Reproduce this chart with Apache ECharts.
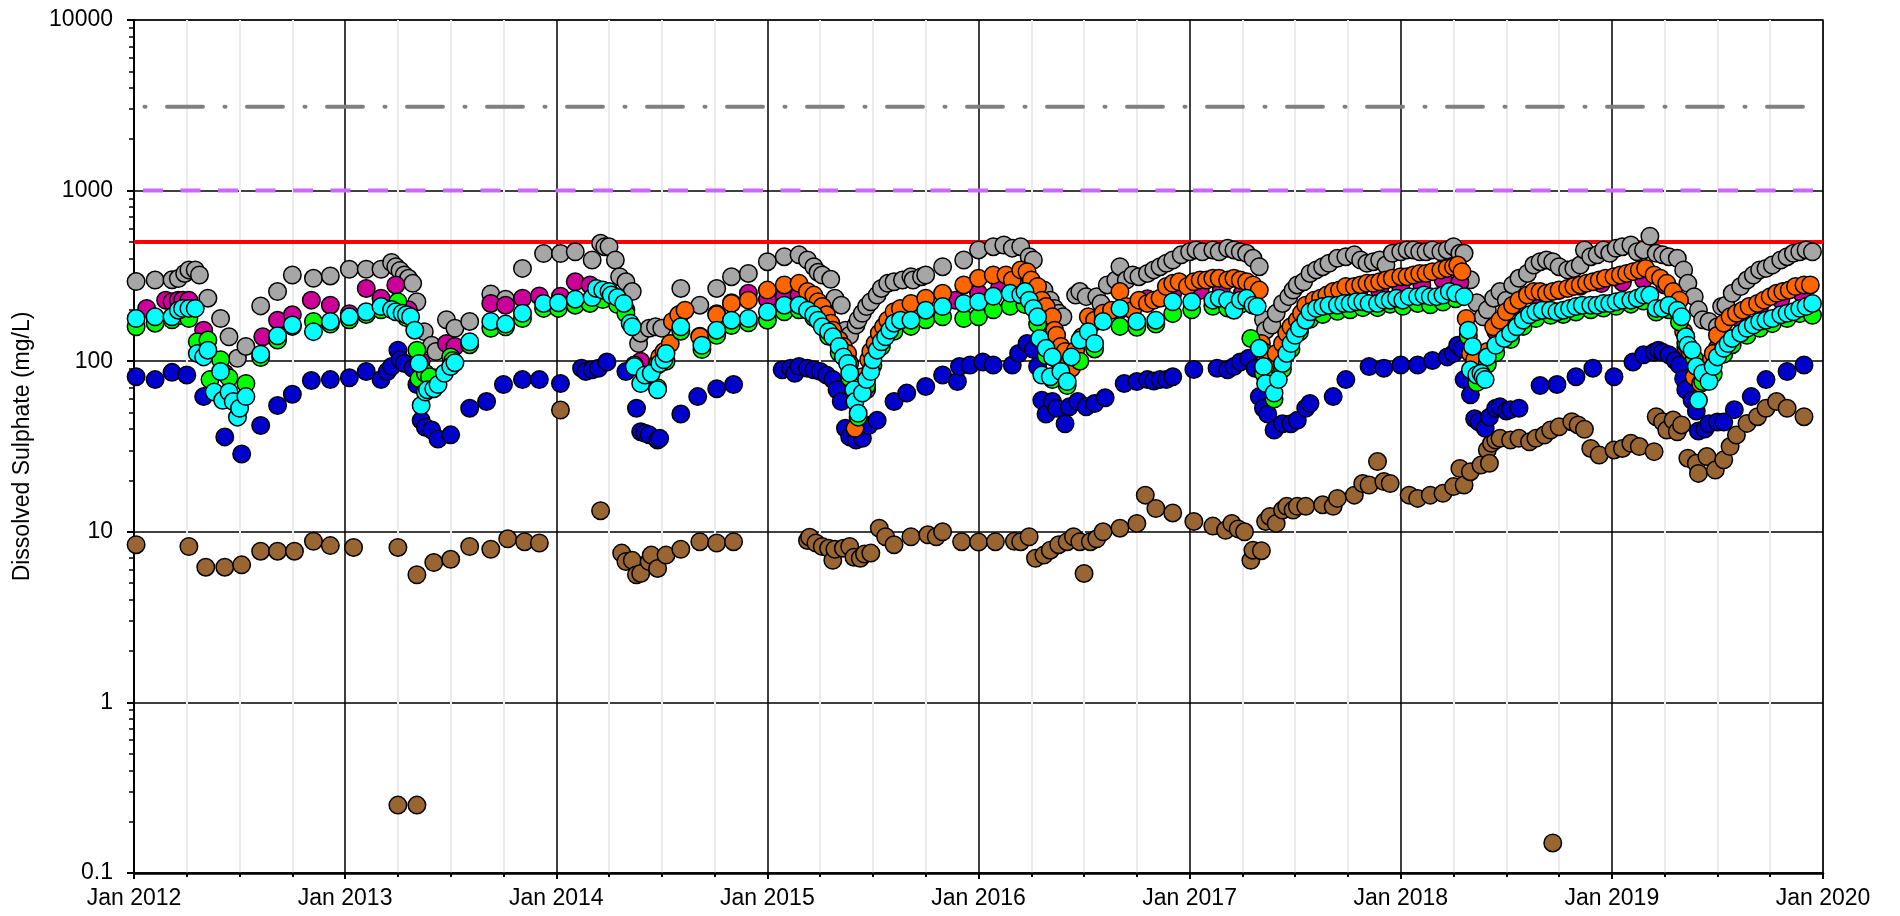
<!DOCTYPE html>
<html>
<head>
<meta charset="utf-8">
<title>Dissolved Sulphate</title>
<script src="https://cdn.jsdelivr.net/npm/echarts@6/dist/echarts.min.js"></script>
<style>
html, body { margin: 0; padding: 0; background: #ffffff; }
#chart { width: 1900px; height: 916px; }
</style>
</head>
<body>
<div id="chart"></div>
<script>
// Sampling date (decimal year) and dissolved sulphate (mg/L) for each monitoring location
const graySeries = [
  [2012.01,293],[2012.10,299],[2012.18,300],[2012.21,305],[2012.24,327],[2012.26,343],[2012.29,343],[2012.31,320],[2012.35,234],[2012.41,178],[2012.45,139],[2012.49,104],[2012.53,122],[2012.60,211],[2012.68,256],[2012.75,320],[2012.85,306],[2012.93,316],
  [2013.02,346],[2013.10,346],[2013.17,346],[2013.22,379],[2013.24,358],[2013.26,340],[2013.28,320],[2013.30,306],[2013.32,286],[2013.34,223],[2013.375,149],[2013.41,124],[2013.43,114],[2013.48,175],[2013.52,156],[2013.59,171],[2013.69,248],[2013.76,231],[2013.84,350],[2013.94,428],
  [2014.02,428],[2014.09,438],[2014.17,392],[2014.21,491],[2014.23,469],[2014.25,469],[2014.28,392],[2014.30,313],[2014.33,292],[2014.36,256],[2014.39,127],[2014.40,146],[2014.44,156],[2014.47,159],[2014.50,156],[2014.59,267],[2014.68,213],[2014.76,267],[2014.83,313],[2014.91,327],
  [2015.00,383],[2015.08,410],[2015.15,420],[2015.19,392],[2015.22,358],[2015.24,332],[2015.26,320],[2015.30,302],[2015.32,234],[2015.35,213],[2015.37,152],[2015.39,142],[2015.42,163],[2015.43,175],[2015.45,191],[2015.47,209],[2015.49,223],[2015.52,244],[2015.54,267],[2015.57,286],[2015.60,292],[2015.64,299],[2015.68,313],[2015.69,299],[2015.73,313],[2015.75,320],[2015.83,358],[2015.93,392],
  [2016.00,449],[2016.07,469],[2016.12,480],[2016.16,460],[2016.20,469],[2016.24,410],[2016.26,392],[2016.29,267],[2016.31,261],[2016.34,228],[2016.36,204],[2016.38,191],[2016.40,182],[2016.46,244],[2016.48,256],[2016.51,239],[2016.56,239],[2016.58,218],[2016.61,280],[2016.65,299],[2016.67,358],[2016.70,299],[2016.73,320],[2016.76,313],[2016.80,327],[2016.83,343],[2016.86,358],[2016.89,375],[2016.92,392],[2016.96,420],
  [2017.00,438],[2017.03,449],[2017.06,438],[2017.11,449],[2017.14,438],[2017.18,459],[2017.21,449],[2017.24,438],[2017.27,429],[2017.30,401],[2017.33,358],[2017.35,175],[2017.36,152],[2017.39,163],[2017.41,191],[2017.44,218],[2017.47,239],[2017.49,261],[2017.51,280],[2017.54,292],[2017.57,327],[2017.60,343],[2017.63,358],[2017.66,375],[2017.70,401],[2017.74,410],[2017.78,420],[2017.81,392],[2017.84,375],[2017.87,383],[2017.90,392],[2017.93,366],[2017.96,429],
  [2018.00,438],[2018.03,449],[2018.06,449],[2018.09,438],[2018.12,438],[2018.15,449],[2018.19,438],[2018.22,449],[2018.25,469],[2018.28,429],[2018.30,429],[2018.33,300],[2018.36,220],[2018.39,182],[2018.41,200],[2018.44,234],[2018.47,256],[2018.50,228],[2018.53,280],[2018.56,306],[2018.60,327],[2018.63,366],[2018.66,383],[2018.69,392],[2018.72,383],[2018.75,358],[2018.79,343],[2018.82,350],[2018.85,366],[2018.87,449],[2018.90,410],[2018.93,420],[2018.96,449],[2018.99,429],
  [2019.02,459],[2019.05,469],[2019.09,480],[2019.12,438],[2019.15,449],[2019.18,540],[2019.21,429],[2019.24,420],[2019.27,410],[2019.31,401],[2019.34,343],[2019.36,286],[2019.39,239],[2019.41,200],[2019.43,175],[2019.46,171],[2019.50,159],[2019.52,209],[2019.54,213],[2019.57,250],[2019.61,274],[2019.64,299],[2019.67,320],[2019.70,343],[2019.73,350],[2019.76,366],[2019.80,392],[2019.83,410],[2019.86,429],[2019.89,438],[2019.92,449],[2019.95,438]
];

const magentaSeries = [
  [2012.06,204],[2012.15,228],[2012.18,223],[2012.21,228],[2012.23,228],[2012.26,228],[2012.33,152],[2012.43,85],[2012.61,139],[2012.68,174],[2012.75,187],[2012.84,228],[2012.93,213],
  [2013.02,190],[2013.10,267],[2013.17,234],[2013.24,280],[2013.30,200],[2013.36,100],[2013.42,80],[2013.48,127],[2013.52,122],[2013.69,218],[2013.76,213],[2013.84,234],[2013.92,241],
  [2014.02,240],[2014.09,292],[2014.16,280],[2014.25,250],[2014.33,200],[2014.40,100],[2014.48,95],[2014.59,190],[2014.68,140],[2014.76,190],[2014.83,220],[2014.91,250],
  [2015.00,230],[2015.08,240],[2015.15,244],[2015.26,180],[2015.35,110],[2015.42,65],[2015.47,68],[2015.50,110],[2015.60,160],[2015.75,200],[2015.89,228],
  [2016.00,250],[2016.10,270],[2016.20,280],[2016.30,190],[2016.38,100],[2016.45,110],[2016.55,170],[2016.67,200],[2016.80,232],[2016.92,250],
  [2017.05,260],[2017.15,265],[2017.25,250],[2017.35,110],[2017.42,100],[2017.50,150],[2017.60,200],[2017.70,230],[2017.80,250],[2017.90,260],
  [2018.00,270],[2018.10,280],[2018.20,300],[2018.28,290],[2018.35,95],[2018.45,150],[2018.55,210],[2018.65,240],[2018.75,260],[2018.85,275],[2018.95,285],
  [2019.05,290],[2019.15,300],[2019.25,280],[2019.35,120],[2019.42,80],[2019.50,120],[2019.60,180],[2019.70,210],[2019.80,230],[2019.90,250]
];

const greenSeries = [
  [2012.01,159],[2012.10,167],[2012.18,175],[2012.22,185],[2012.26,178],[2012.30,130],[2012.35,133],[2012.36,78],[2012.41,102],[2012.45,80],[2012.53,74],[2012.60,105],[2012.68,133],[2012.75,160],[2012.85,171],[2012.93,165],
  [2013.02,175],[2013.10,188],[2013.17,200],[2013.25,223],[2013.29,180],[2013.34,116],[2013.35,79],[2013.38,85],[2013.40,81],[2013.50,106],[2013.51,101],[2013.59,125],[2013.69,156],[2013.76,159],[2013.84,178],[2013.94,204],
  [2014.01,204],[2014.09,213],[2014.16,218],[2014.22,230],[2014.29,215],[2014.33,190],[2014.37,95],[2014.42,78],[2014.48,70],[2014.52,100],[2014.59,150],[2014.69,117],[2014.76,142],[2014.83,162],[2014.91,168],
  [2015.00,174],[2015.08,195],[2015.15,200],[2015.22,180],[2015.29,140],[2015.34,112],[2015.39,80],[2015.43,47],[2015.47,72],[2015.50,95],[2015.54,122],[2015.60,150],[2015.68,160],[2015.75,175],[2015.83,182],[2015.93,178],
  [2016.00,182],[2016.07,200],[2016.15,210],[2016.22,215],[2016.28,165],[2016.32,108],[2016.35,78],[2016.42,72],[2016.48,100],[2016.55,118],[2016.67,160],[2016.75,158],[2016.84,165],[2016.92,190],
  [2017.01,200],[2017.11,210],[2017.18,205],[2017.24,215],[2017.29,136],[2017.35,85],[2017.40,60],[2017.44,90],[2017.48,118],[2017.52,148],[2017.57,176],[2017.63,188],[2017.70,196],[2017.76,200],[2017.82,206],[2017.89,206],[2017.95,216],
  [2018.01,210],[2018.08,218],[2018.14,214],[2018.20,222],[2018.26,232],[2018.32,140],[2018.36,75],[2018.41,96],[2018.45,112],[2018.52,134],[2018.58,160],[2018.64,178],[2018.71,186],[2018.77,188],[2018.83,194],[2018.90,200],[2018.96,205],
  [2019.02,210],[2019.09,216],[2019.15,225],[2019.21,194],[2019.27,200],[2019.32,170],[2019.35,128],[2019.39,104],[2019.43,76],[2019.48,84],[2019.53,110],[2019.57,125],[2019.64,142],[2019.70,156],[2019.76,166],[2019.83,178],[2019.89,190],[2019.95,186]
];

const orangeSeries = [
  [2014.48,97],[2014.49,106],[2014.51,114],[2014.54,127],[2014.55,171],[2014.58,187],[2014.61,199],[2014.68,139],[2014.76,187],[2014.83,218],[2014.91,228],
  [2015.00,261],[2015.08,280],[2015.15,286],[2015.19,256],[2015.22,244],[2015.24,223],[2015.26,209],[2015.28,187],[2015.30,167],[2015.31,152],[2015.34,133],[2015.36,122],[2015.38,111],[2015.39,97],[2015.41,65],[2015.415,40.4],[2015.44,71],[2015.45,81],[2015.48,102],[2015.49,114],[2015.51,127],[2015.53,146],[2015.55,159],[2015.57,174],[2015.60,195],[2015.63,204],[2015.68,218],[2015.75,234],[2015.83,250],[2015.93,280],
  [2016.00,306],[2016.07,320],[2016.13,320],[2016.16,299],[2016.20,343],[2016.23,335],[2016.25,299],[2016.28,274],[2016.30,228],[2016.32,209],[2016.35,182],[2016.36,152],[2016.37,142],[2016.39,122],[2016.41,114],[2016.43,99],[2016.44,91],[2016.46,116],[2016.49,139],[2016.52,182],[2016.55,174],[2016.59,191],[2016.63,199],[2016.67,256],[2016.70,209],[2016.73,199],[2016.76,228],[2016.80,218],[2016.83,228],[2016.86,234],[2016.89,274],[2016.92,286],[2016.95,292],[2016.99,274],
  [2017.02,292],[2017.05,299],[2017.08,299],[2017.11,306],[2017.14,306],[2017.18,299],[2017.21,306],[2017.24,299],[2017.27,292],[2017.30,280],[2017.33,261],[2017.34,127],[2017.35,114],[2017.36,102],[2017.39,93],[2017.41,111],[2017.44,127],[2017.46,146],[2017.48,159],[2017.51,174],[2017.53,191],[2017.55,213],[2017.59,228],[2017.62,234],[2017.65,244],[2017.68,256],[2017.71,261],[2017.74,274],[2017.78,274],[2017.81,280],[2017.84,286],[2017.87,286],[2017.90,292],[2017.93,299],[2017.96,306],
  [2018.00,313],[2018.03,313],[2018.06,320],[2018.09,327],[2018.12,327],[2018.15,335],[2018.19,343],[2018.22,350],[2018.25,358],[2018.27,366],[2018.29,335],[2018.31,178],[2018.33,111],[2018.35,102],[2018.38,83],[2018.41,114],[2018.44,159],[2018.47,174],[2018.50,195],[2018.53,213],[2018.56,228],[2018.60,244],[2018.63,256],[2018.66,256],[2018.69,250],[2018.72,256],[2018.75,261],[2018.79,267],[2018.82,274],[2018.85,280],[2018.88,286],[2018.91,292],[2018.94,299],[2018.97,306],
  [2019.01,313],[2019.04,320],[2019.07,327],[2019.10,335],[2019.13,343],[2019.16,350],[2019.20,320],[2019.23,306],[2019.26,286],[2019.29,256],[2019.32,228],[2019.34,149],[2019.35,139],[2019.37,114],[2019.39,81],[2019.42,74],[2019.45,97],[2019.48,111],[2019.50,142],[2019.53,167],[2019.56,182],[2019.59,191],[2019.62,199],[2019.65,209],[2019.69,218],[2019.72,228],[2019.75,239],[2019.78,250],[2019.81,256],[2019.84,261],[2019.87,274],[2019.91,280],[2019.94,280]
];

const cyanSeries = [
  [2012.01,178],[2012.10,182],[2012.18,182],[2012.21,199],[2012.23,204],[2012.26,204],[2012.29,204],[2012.30,111],[2012.33,106],[2012.35,116],[2012.38,66],[2012.41,87],[2012.42,59],[2012.45,66],[2012.47,58],[2012.49,47],[2012.50,53],[2012.53,62],[2012.60,110],[2012.68,141],[2012.75,163],[2012.85,149],[2012.93,171],
  [2013.02,182],[2013.10,195],[2013.17,209],[2013.22,201],[2013.24,195],[2013.27,191],[2013.29,187],[2013.31,182],[2013.33,152],[2013.35,97],[2013.36,55],[2013.38,66],[2013.39,68],[2013.42,69],[2013.44,73],[2013.47,85],[2013.50,93],[2013.52,98],[2013.59,130],[2013.69,171],[2013.76,165],[2013.84,191],[2013.94,218],
  [2014.01,220],[2014.09,231],[2014.17,236],[2014.19,267],[2014.22,261],[2014.25,256],[2014.26,244],[2014.29,236],[2014.32,218],[2014.35,167],[2014.36,159],[2014.37,93],[2014.40,74],[2014.42,83],[2014.45,85],[2014.48,68],[2014.49,97],[2014.51,102],[2014.52,111],[2014.59,159],[2014.69,124],[2014.76,152],[2014.83,174],[2014.91,178],
  [2015.00,195],[2015.08,213],[2015.15,213],[2015.19,199],[2015.22,187],[2015.24,174],[2015.26,159],[2015.29,149],[2015.31,139],[2015.34,122],[2015.36,106],[2015.38,97],[2015.39,85],[2015.41,68],[2015.415,58],[2015.43,49.5],[2015.45,65],[2015.47,78],[2015.49,87],[2015.50,102],[2015.52,116],[2015.54,130],[2015.56,139],[2015.58,152],[2015.60,167],[2015.63,174],[2015.68,174],[2015.75,199],[2015.83,209],[2015.93,218],
  [2016.00,223],[2016.07,240],[2016.15,250],[2016.20,245],[2016.22,256],[2016.24,228],[2016.26,204],[2016.28,182],[2016.29,136],[2016.30,83],[2016.32,119],[2016.34,81],[2016.35,106],[2016.39,87],[2016.42,76],[2016.44,106],[2016.48,133],[2016.52,149],[2016.55,127],[2016.59,171],[2016.67,204],[2016.75,171],[2016.84,174],[2016.92,223],
  [2017.01,223],[2017.11,228],[2017.14,234],[2017.18,228],[2017.21,199],[2017.24,228],[2017.27,234],[2017.30,213],[2017.32,209],[2017.33,119],[2017.35,93],[2017.36,74],[2017.40,65],[2017.42,78],[2017.44,97],[2017.46,111],[2017.48,127],[2017.50,142],[2017.52,156],[2017.55,174],[2017.57,195],[2017.60,204],[2017.63,209],[2017.66,213],[2017.70,213],[2017.73,218],[2017.76,218],[2017.79,223],[2017.82,223],[2017.85,218],[2017.89,218],[2017.92,228],[2017.95,228],[2017.98,234],
  [2018.01,228],[2018.04,239],[2018.08,239],[2018.11,244],[2018.14,239],[2018.17,239],[2018.20,244],[2018.23,256],[2018.26,250],[2018.30,239],[2018.32,152],[2018.33,89],[2018.34,122],[2018.36,83],[2018.38,85],[2018.39,81],[2018.40,78],[2018.41,106],[2018.45,124],[2018.49,136],[2018.52,146],[2018.55,159],[2018.58,174],[2018.61,187],[2018.64,195],[2018.67,199],[2018.71,199],[2018.74,195],[2018.77,199],[2018.80,204],[2018.83,209],[2018.86,213],[2018.90,213],[2018.93,213],[2018.96,218],[2018.99,218],
  [2019.02,223],[2019.05,228],[2019.09,228],[2019.12,234],[2019.15,244],[2019.18,244],[2019.21,204],[2019.24,204],[2019.27,213],[2019.31,199],[2019.33,182],[2019.35,139],[2019.36,124],[2019.38,116],[2019.40,93],[2019.41,59],[2019.43,85],[2019.46,76],[2019.48,93],[2019.50,106],[2019.53,119],[2019.55,127],[2019.57,136],[2019.61,146],[2019.64,156],[2019.67,163],[2019.70,171],[2019.73,174],[2019.76,178],[2019.80,187],[2019.83,191],[2019.86,195],[2019.89,204],[2019.92,209],[2019.95,218]
];

const blueSeries = [
  [2012.01,81],[2012.10,78],[2012.18,86],[2012.25,83],[2012.33,62],[2012.43,36],[2012.51,28.6],[2012.60,42],[2012.68,55],[2012.75,64],[2012.84,77],[2012.93,78],
  [2013.02,80],[2013.10,87],[2013.17,78],[2013.20,87],[2013.22,93],[2013.25,116],[2013.26,102],[2013.28,97],[2013.32,91],[2013.34,73],[2013.36,45],[2013.38,41],[2013.41,39.5],[2013.44,35],[2013.50,37],[2013.59,53],[2013.67,58],[2013.75,73],[2013.84,78],[2013.92,78],
  [2014.02,74],[2014.12,91],[2014.14,87],[2014.17,89],[2014.20,91],[2014.24,99],[2014.33,87],[2014.38,53],[2014.40,38.6],[2014.42,37.8],[2014.44,37],[2014.48,34.5],[2014.49,35.3],[2014.59,49],[2014.67,62],[2014.76,69],[2014.84,73],
  [2015.07,89],[2015.11,91],[2015.13,85],[2015.15,93],[2015.19,91],[2015.22,89],[2015.25,87],[2015.28,83],[2015.31,78],[2015.33,68],[2015.35,58],[2015.37,40.5],[2015.39,36],[2015.42,34.5],[2015.45,35.3],[2015.48,42],[2015.52,45],[2015.60,58],[2015.66,65],[2015.75,71],[2015.83,83],[2015.90,76],[2015.91,93],[2015.96,95],
  [2016.02,99],[2016.07,95],[2016.16,95],[2016.19,111],[2016.23,127],[2016.26,117],[2016.28,93],[2016.30,59],[2016.32,49],[2016.35,58],[2016.37,53],[2016.41,43],[2016.43,54],[2016.47,58],[2016.51,54],[2016.55,56.5],[2016.60,61],[2016.69,74],[2016.75,76],[2016.80,78],[2016.83,76.5],[2016.86,78],[2016.89,78],[2016.92,81],
  [2017.02,89.5],[2017.13,91],[2017.18,89],[2017.21,93],[2017.24,99],[2017.28,104],[2017.31,91],[2017.33,62],[2017.35,53],[2017.37,49],[2017.40,39.5],[2017.44,43],[2017.48,43],[2017.51,45],[2017.55,53],[2017.57,56.5],[2017.68,62],[2017.74,78],[2017.85,93],[2017.92,91],
  [2018.00,95],[2018.08,95],[2018.15,101],[2018.22,106],[2018.25,111],[2018.27,124],[2018.29,118],[2018.30,78],[2018.33,63.5],[2018.35,46],[2018.37,44],[2018.40,40.4],[2018.42,47],[2018.45,53],[2018.47,54],[2018.50,51],[2018.52,52],[2018.56,53],[2018.66,72],[2018.74,73],[2018.83,81],[2018.91,91],
  [2019.01,81],[2019.10,99],[2019.15,109],[2019.20,113],[2019.22,116],[2019.24,113],[2019.27,109],[2019.30,101],[2019.32,95],[2019.34,79],[2019.35,68],[2019.38,59],[2019.40,51],[2019.41,39],[2019.44,40],[2019.46,43],[2019.50,44],[2019.53,44],[2019.58,52],[2019.66,62],[2019.73,78],[2019.83,87],[2019.91,95]
];

const brownSeries = [
  [2012.01,8.4],[2012.26,8.2],[2012.34,6.2],[2012.43,6.2],[2012.51,6.4],[2012.60,7.7],[2012.68,7.7],[2012.76,7.7],[2012.85,8.8],[2012.93,8.3],
  [2013.04,8.1],[2013.25,8.1],[2013.25,0.25],[2013.34,0.25],[2013.34,5.6],[2013.42,6.6],[2013.50,6.9],[2013.59,8.2],[2013.69,7.9],[2013.77,9.1],[2013.85,8.75],[2013.92,8.6],
  [2014.02,51.7],[2014.21,13.3],[2014.31,7.5],[2014.33,6.7],[2014.36,6.8],[2014.38,5.6],[2014.40,5.7],[2014.44,6.7],[2014.45,7.3],[2014.48,6.1],[2014.52,7.3],[2014.59,7.9],[2014.68,8.75],[2014.76,8.6],[2014.84,8.75],
  [2015.19,8.9],[2015.20,9.3],[2015.23,8.6],[2015.26,8.2],[2015.29,8.0],[2015.31,6.8],[2015.32,7.9],[2015.36,8.0],[2015.39,8.2],[2015.41,7.1],[2015.44,7.0],[2015.46,7.4],[2015.49,7.5],[2015.53,10.5],[2015.56,9.35],[2015.60,8.4],[2015.68,9.35],[2015.76,9.6],[2015.80,9.35],[2015.83,10.0],[2015.92,8.75],
  [2016.00,8.7],[2016.08,8.75],[2016.17,8.8],[2016.20,8.75],[2016.24,9.35],[2016.27,7.0],[2016.31,7.3],[2016.34,7.8],[2016.38,8.4],[2016.42,8.75],[2016.45,9.35],[2016.48,8.75],[2016.50,5.7],[2016.53,8.75],[2016.56,9.1],[2016.59,10],[2016.67,10.5],[2016.75,11.2],[2016.79,16.4],[2016.84,13.7],[2016.92,12.9],
  [2017.02,11.5],[2017.11,10.8],[2017.17,10.2],[2017.20,11.2],[2017.23,10.4],[2017.26,10.0],[2017.29,6.8],[2017.30,7.8],[2017.34,7.75],[2017.36,11.5],[2017.38,12.3],[2017.41,11.2],[2017.44,13.4],[2017.46,14.1],[2017.49,13.4],[2017.51,14.1],[2017.55,14.1],[2017.63,14.4],[2017.68,14.1],[2017.70,15.7],[2017.78,16.4],[2017.82,19.2],[2017.85,18.8],[2017.89,25.8],[2017.92,19.7],[2017.95,19.2],
  [2018.04,16.4],[2018.08,15.7],[2018.14,16.4],[2018.20,16.8],[2018.25,18.4],[2018.28,23.5],[2018.30,18.8],[2018.33,22.5],[2018.38,24.6],[2018.41,30.2],[2018.42,25.2],[2018.43,33],[2018.45,34.5],[2018.47,35.3],[2018.52,34.5],[2018.56,35.3],[2018.61,33.7],[2018.64,35.3],[2018.68,36.9],[2018.71,39.5],[2018.72,0.15],[2018.75,41.3],[2018.81,44.2],[2018.84,42.3],[2018.87,39.9],[2018.90,30.8],[2018.94,28.2],
  [2019.01,30.2],[2019.05,30.8],[2019.09,33],[2019.13,31.6],[2019.20,29.5],[2019.21,47.3],[2019.24,44.2],[2019.26,39.5],[2019.29,45.2],[2019.31,38.6],[2019.33,42.3],[2019.36,27],[2019.40,25.2],[2019.41,22],[2019.45,27.6],[2019.49,23],[2019.53,26.4],[2019.56,31.6],[2019.59,36.9],[2019.64,43.2],[2019.69,47.3],[2019.73,53],[2019.78,58],[2019.83,53],[2019.91,47.3]
];

// Guideline concentrations (mg/L)
const guidelineUpper = 3100;
const guidelineMid = 1000;
const guidelineLower = 500;

// Axis ticks
const yearTicks = [2012, 2013, 2014, 2015, 2016, 2017, 2018, 2019, 2020];
const yTicks = [0.1, 1, 10, 100, 1000, 10000];
const yMinorTicks = [
  0.2, 0.3, 0.4, 0.5, 0.6, 0.7, 0.8, 0.9,
  2, 3, 4, 5, 6, 7, 8, 9,
  20, 30, 40, 50, 60, 70, 80, 90,
  200, 300, 400, 500, 600, 700, 800, 900,
  2000, 3000, 4000, 5000, 6000, 7000, 8000, 9000
];

const FONT = '"Liberation Sans", Arial, Helvetica, sans-serif';

function pointSeries(name, data, color) {
  return {
    name: name,
    type: 'scatter',
    data: data,
    symbol: 'circle',
    symbolSize: 17.5,
    z: 3,
    silent: true,
    itemStyle: { color: color, borderColor: '#000000', borderWidth: 1.5, opacity: 1 },
    emphasis: { disabled: true }
  };
}

function guideSeries(name, value, lineStyle) {
  return {
    name: name,
    type: 'line',
    data: [[yearTicks[0], value], [yearTicks[yearTicks.length - 1], value]],
    showSymbol: false,
    symbol: 'none',
    silent: true,
    z: 2,
    lineStyle: lineStyle,
    emphasis: { disabled: true }
  };
}

const chart = echarts.init(document.getElementById('chart'), null, { renderer: 'canvas' });

chart.setOption({
  animation: false,
  backgroundColor: '#ffffff',
  grid: {
    left: 134, right: 77, top: 20, bottom: 43,
    show: true, borderColor: '#7f7f7f', borderWidth: 2, backgroundColor: 'transparent'
  },
  xAxis: {
    type: 'value',
    min: yearTicks[0],
    max: yearTicks[yearTicks.length - 1],
    interval: 1,
    axisLine: { show: true, onZero: false, lineStyle: { color: '#000000', width: 2.5 } },
    axisTick: { show: true, length: 6, lineStyle: { color: '#000000', width: 2 } },
    minorTick: { show: true, splitNumber: 4, length: 4, lineStyle: { color: '#000000', width: 2 } },
    axisLabel: {
      fontFamily: FONT, fontSize: 23, color: '#000000', margin: 14,
      customValues: yearTicks,
      formatter: function (v) { return 'Jan ' + Math.round(v); }
    },
    splitLine: { show: true, lineStyle: { color: '#000000', width: 1.5 } },
    minorSplitLine: { show: true, lineStyle: { color: '#ebebeb', width: 2 } }
  },
  yAxis: [
    {
      type: 'log',
      logBase: 10,
      min: yTicks[0],
      max: yTicks[yTicks.length - 1],
      name: 'Dissolved Sulphate (mg/L)',
      nameLocation: 'middle',
      nameGap: 100,
      nameTextStyle: { fontFamily: FONT, fontSize: 23, color: '#000000' },
      axisLine: { show: true, lineStyle: { color: '#000000', width: 2 } },
      axisTick: { show: true, length: 7, lineStyle: { color: '#000000', width: 2 } },
      axisLabel: {
        fontFamily: FONT, fontSize: 23, color: '#000000', margin: 21,
        formatter: function (v) { return String(Number(v.toPrecision(6))); }
      },
      splitLine: { show: true, lineStyle: { color: '#000000', width: 1.5 } }
    },
    {
      // log-spaced minor ticks (2..9 within each decade)
      type: 'log',
      logBase: 10,
      min: yTicks[0],
      max: yTicks[yTicks.length - 1],
      position: 'left',
      axisLine: { show: false },
      axisLabel: { show: false },
      splitLine: { show: false },
      axisTick: { show: true, length: 5, customValues: yMinorTicks, lineStyle: { color: '#000000', width: 1.5 } }
    }
  ],
  series: [
    guideSeries('Guideline upper', guidelineUpper, {
      color: '#808080', width: 4, type: [36, 21.5, 1, 21.5], cap: 'round', dashOffset: 47
    }),
    guideSeries('Guideline mid', guidelineMid, {
      color: '#cc66ff', width: 4, type: [20, 17.5], cap: 'butt', dashOffset: 28.5
    }),
    guideSeries('Guideline lower', guidelineLower, {
      color: '#ff0000', width: 4, type: 'solid'
    }),
    pointSeries('Station 7', brownSeries, '#996633'),
    pointSeries('Station 6', blueSeries, '#0000cc'),
    pointSeries('Station 1', graySeries, '#a6a6a6'),
    pointSeries('Station 2', magentaSeries, '#cc0099'),
    pointSeries('Station 4', orangeSeries, '#ff6600'),
    pointSeries('Station 3', greenSeries, '#00ff00'),
    pointSeries('Station 5', cyanSeries, '#00ffff')
  ]
});
</script>
</body>
</html>
